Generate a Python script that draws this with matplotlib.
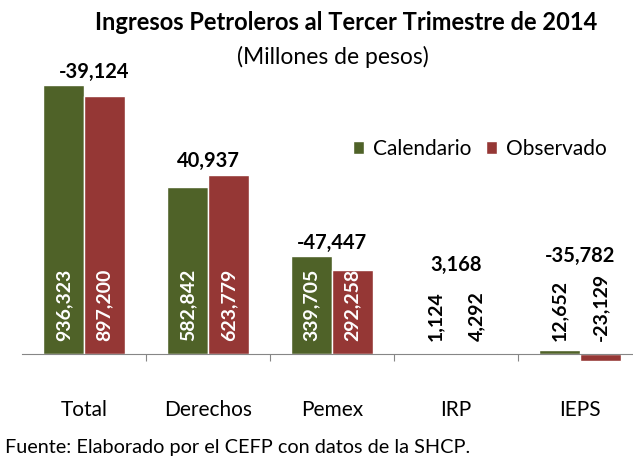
import matplotlib
matplotlib.use("Agg")
import matplotlib.pyplot as plt
import matplotlib.transforms as mtransforms

plt.rcParams["font.family"] = ["Lato", "DejaVu Sans"]

categories = ["Total", "Derechos", "Pemex", "IRP", "IEPS"]
calendario = [936323, 582842, 339705, 1124, 12652]
observado = [897200, 623779, 292258, 4292, -23129]
diferencia = [-39124, 40937, -47447, 3168, -35782]

GREEN = "#4F6228"
RED = "#953735"

fig = plt.figure(figsize=(6.33, 4.57), dpi=100)
ax = fig.add_axes([22 / 633, 0.1626, 620 / 633, 0.691])

x = list(range(len(categories)))
w = 0.33
ax.bar([i - w / 2 for i in x], calendario, width=w, color=GREEN,
       edgecolor="white", linewidth=1, label="Calendario")
ax.bar([i + w / 2 for i in x], observado, width=w, color=RED,
       edgecolor="white", linewidth=1, label="Observado")

ax.set_xlim(-0.5, len(categories) - 0.5)
ax.set_ylim(-100000, 1000000)

for s in ["top", "right", "left"]:
    ax.spines[s].set_visible(False)
ax.spines["bottom"].set_position(("data", 0))
ax.spines["bottom"].set_color("#868686")
ax.set_yticks([])
ax.set_xticks([i + 0.5 for i in x[:-1]])
ax.set_xticklabels([])
ax.tick_params(axis="x", direction="out", length=5, color="#868686")

# value labels inside/near bars
off = mtransforms.offset_copy(ax.transData, fig=fig, y=13, units="dots")
for i in x:
    big = calendario[i] > 100000
    col = "white" if big else "black"
    ax.text(i - w / 2, 0, f"{calendario[i]:,}", rotation=90, ha="center",
            va="bottom", color=col, fontsize=14, fontweight="bold",
            transform=off)
    ax.text(i + w / 2, 0, f"{observado[i]:,}", rotation=90, ha="center",
            va="bottom", color=col, fontsize=14, fontweight="bold",
            transform=off)

# difference labels
for i in x:
    top = max(calendario[i], observado[i])
    y = top + 47000 if top > 100000 else 310000
    if categories[i] == "IEPS":
        y = 341000
    dx = 0.08 if i == 0 else 0
    ax.text(i + dx, y, f"{diferencia[i]:,}", ha="center", va="center",
            fontsize=14.5, fontweight="bold", color="black")

# category labels
lab_tr = mtransforms.blended_transform_factory(ax.transData, fig.transFigure)
for i, c in enumerate(categories):
    ax.text(i, 1 - 410 / 457, c, ha="center", va="center", fontsize=15,
            transform=lab_tr)

ax.legend(loc="upper right", bbox_to_anchor=(625 / 633, 1 - 120 / 457),
          bbox_transform=fig.transFigure, frameon=False, fontsize=15,
          handlelength=0.55, handleheight=0.55, handletextpad=0.4,
          columnspacing=0.7, ncol=2)

fig.text(346 / 633, 1 - 22 / 457, "Ingresos Petroleros al Tercer Trimestre de 2014",
         ha="center", va="center", fontsize=17, fontweight="bold")
fig.text(333 / 633, 1 - 57 / 457, "(Millones de pesos)", ha="center",
         va="center", fontsize=16.5)
fig.text(5 / 633, 1 - 447 / 457, "Fuente: Elaborado por el CEFP con datos de la SHCP.",
         ha="left", va="center", fontsize=14.3)

fig.savefig("out.png", dpi=100)
